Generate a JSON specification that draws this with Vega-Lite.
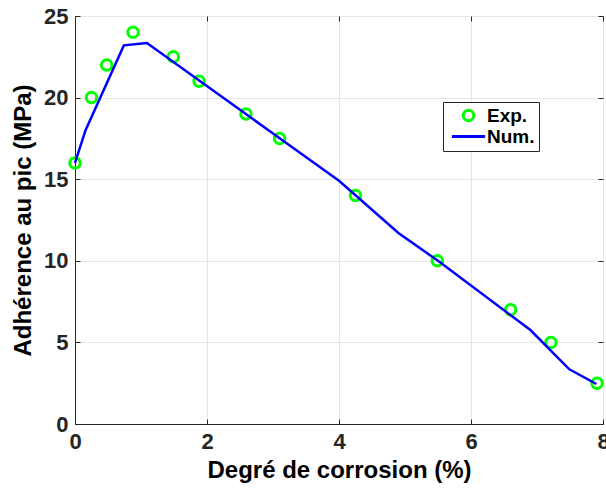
{
  "$schema": "https://vega.github.io/schema/vega-lite/v6.json",
  "width": 528,
  "height": 408,
  "autosize": {"type": "none"},
  "padding": {"left": 75, "top": 16, "right": 3, "bottom": 64},
  "background": "white",
  "data": {
    "values": [
      {"x": 0, "y": 16, "series": "Exp."},
      {"x": 0.25, "y": 20, "series": "Exp."},
      {"x": 0.48, "y": 22, "series": "Exp."},
      {"x": 0.88, "y": 24, "series": "Exp."},
      {"x": 1.49, "y": 22.5, "series": "Exp."},
      {"x": 1.88, "y": 21, "series": "Exp."},
      {"x": 2.59, "y": 19, "series": "Exp."},
      {"x": 3.1, "y": 17.5, "series": "Exp."},
      {"x": 4.25, "y": 14, "series": "Exp."},
      {"x": 5.49, "y": 10, "series": "Exp."},
      {"x": 6.6, "y": 7, "series": "Exp."},
      {"x": 7.21, "y": 5, "series": "Exp."},
      {"x": 7.91, "y": 2.5, "series": "Exp."},
      {"x": 0, "y": 16, "series": "Num."},
      {"x": 0.16, "y": 18, "series": "Num."},
      {"x": 0.74, "y": 23.2, "series": "Num."},
      {"x": 1.09, "y": 23.35, "series": "Num."},
      {"x": 3.0, "y": 17.8, "series": "Num."},
      {"x": 4.0, "y": 14.9, "series": "Num."},
      {"x": 4.9, "y": 11.7, "series": "Num."},
      {"x": 5.5, "y": 10.0, "series": "Num."},
      {"x": 6.9, "y": 5.76, "series": "Num."},
      {"x": 7.49, "y": 3.35, "series": "Num."},
      {"x": 7.9, "y": 2.45, "series": "Num."}
    ]
  },
  "config": {
    "font": "Liberation Sans",
    "view": {"stroke": "#262626", "strokeWidth": 1},
    "axis": {
      "domainColor": "#262626",
      "tickColor": "#262626",
      "gridColor": "#e6e6e6",
      "labelColor": "#262626",
      "labelFontSize": 22,
      "labelFontWeight": "bold",
      "labelFlush": false,
      "labelOverlap": false,
      "titleFontSize": 24,
      "titleFontWeight": "bold",
      "titleColor": "#000000",
      "labelFont": "Liberation Sans",
      "titleFont": "Liberation Sans"
    }
  },
  "layer": [
    {
      "transform": [{"filter": "datum.series === 'Exp.'"}],
      "mark": {"type": "point", "filled": false, "strokeWidth": 3, "size": 110, "opacity": 1},
      "encoding": {
        "x": {
          "field": "x", "type": "quantitative",
          "scale": {"domain": [0, 8], "nice": false},
          "axis": {"title": "Degré de corrosion (%)", "values": [0, 2, 4, 6, 8], "tickSize": -5, "labelPadding": 12, "titlePadding": 6, "grid": true}
        },
        "y": {
          "field": "y", "type": "quantitative",
          "scale": {"domain": [0, 25], "nice": false},
          "axis": {"title": "Adhérence au pic (MPa)", "values": [0, 5, 10, 15, 20, 25], "tickSize": -5, "labelPadding": 12, "titlePadding": 8, "grid": true}
        },
        "color": {
          "field": "series", "type": "nominal",
          "scale": {"domain": ["Exp.", "Num."], "range": ["#00ff00", "#0000ff"]},
          "legend": {
            "title": null,
            "orient": "none",
            "legendX": 368,
            "legendY": 86,
            "padding": 4,
            "labelFontSize": 19,
            "labelFontWeight": "bold",
            "labelColor": "#000000",
            "symbolOffset": 12,
            "labelOffset": 9,
            "rowPadding": 0,
            "encode": {
              "legend": {
                "update": {
                  "stroke": {"value": "#262626"},
                  "strokeWidth": {"value": 1},
                  "fill": {"value": "white"}
                }
              },
              "symbols": {
                "update": {
                  "shape": {"signal": "datum.label === 'Num.' ? 'stroke' : 'circle'"},
                  "size": {"signal": "datum.label === 'Num.' ? 1100 : 110"},
                  "strokeWidth": {"value": 3},
                  "fill": {"value": "transparent"},
                  "opacity": {"value": 1}
                }
              }
            }
          }
        }
      }
    },
    {
      "transform": [{"filter": "datum.series === 'Num.'"}],
      "mark": {"type": "line", "strokeWidth": 2.5},
      "encoding": {
        "x": {"field": "x", "type": "quantitative", "axis": null},
        "y": {"field": "y", "type": "quantitative", "axis": null},
        "color": {
          "field": "series", "type": "nominal",
          "legend": {
            "title": null,
            "orient": "none",
            "legendX": 368,
            "legendY": 86,
            "padding": 4,
            "labelFontSize": 19,
            "labelFontWeight": "bold",
            "labelColor": "#000000",
            "symbolOffset": 12,
            "labelOffset": 9,
            "rowPadding": 0,
            "encode": {
              "legend": {
                "update": {
                  "stroke": {"value": "#262626"},
                  "strokeWidth": {"value": 1},
                  "fill": {"value": "white"}
                }
              },
              "symbols": {
                "update": {
                  "shape": {"signal": "datum.label === 'Num.' ? 'stroke' : 'circle'"},
                  "size": {"signal": "datum.label === 'Num.' ? 1100 : 110"},
                  "strokeWidth": {"value": 3},
                  "fill": {"value": "transparent"},
                  "opacity": {"value": 1}
                }
              }
            }
          }
        }
      }
    },
    {
      "transform": [{"filter": "datum.series === 'Exp.'"}],
      "mark": {"type": "point", "opacity": 0},
      "encoding": {
        "x": {"field": "x", "type": "quantitative", "axis": {"orient": "top", "title": null, "labels": false, "domain": false, "grid": false, "values": [0, 2, 4, 6, 8], "tickSize": -5}},
        "y": {"field": "y", "type": "quantitative", "axis": {"orient": "right", "title": null, "labels": false, "domain": false, "grid": false, "values": [0, 5, 10, 15, 20, 25], "tickSize": -5}}
      }
    }
  ],
  "resolve": {"axis": {"x": "independent", "y": "independent"}}
}
